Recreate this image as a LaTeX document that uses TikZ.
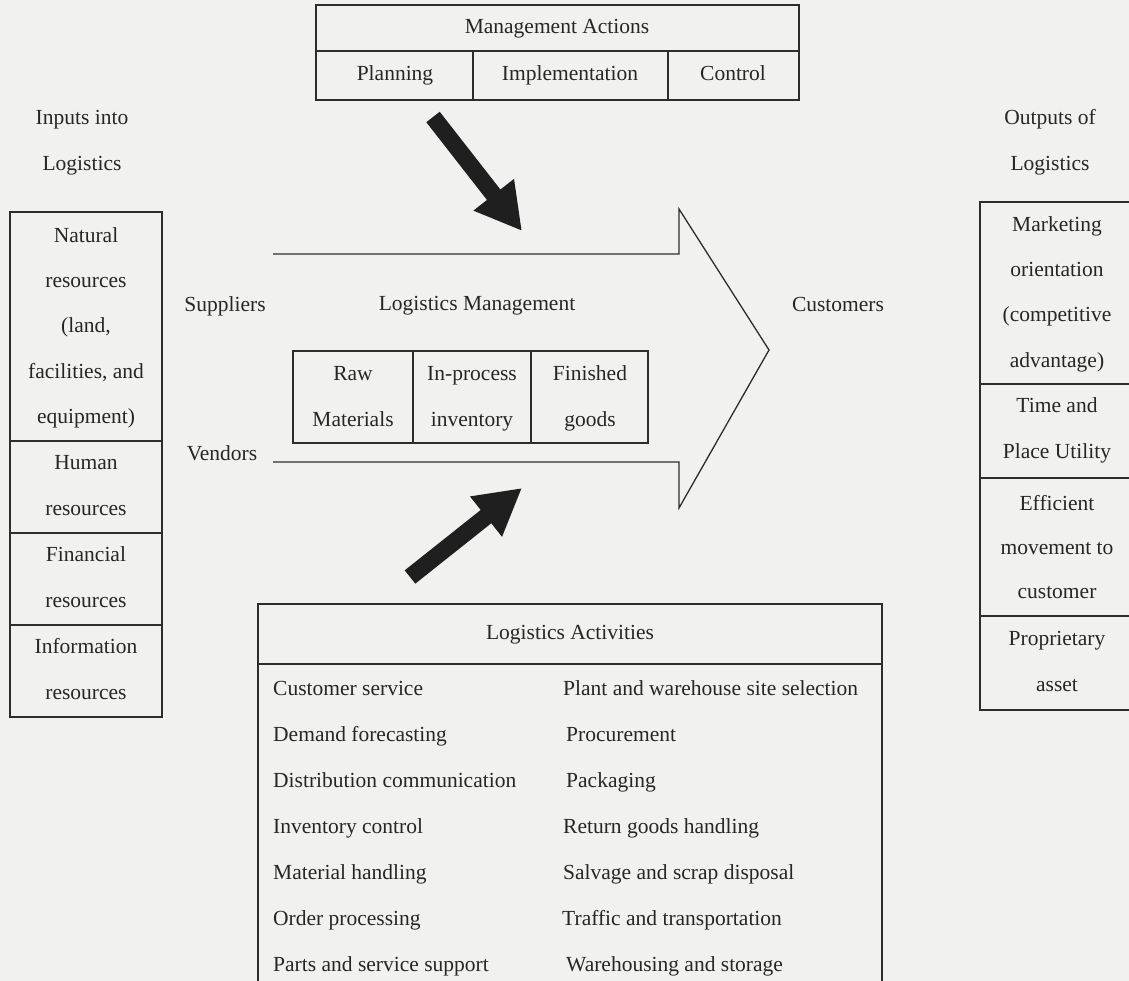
\documentclass[tikz,border=0pt]{standalone}
\usepackage{fontspec}
\setmainfont{Liberation Serif}
\usetikzlibrary{arrows.meta}
\definecolor{nen}{RGB}{241,241,240}
\definecolor{vien}{RGB}{45,45,45}
\tikzset{
  chu/.style={font=\fontsize{21.5}{26}\selectfont, inner sep=0pt, text height=15pt, text depth=5pt, text=black!85},
  khung/.style={draw=vien, line width=1.3pt},
  muiten/.style={line width=17pt, draw=black!88, -{Triangle[length=46pt,width=48pt]}},
}

\begin{document}
\begin{tikzpicture}[x=1pt,y=-1pt]
    % Nền và khung hình
    \fill[nen] (0,0) rectangle (1129,981);
    \useasboundingbox (0,0) rectangle (1129,981);

    % Định nghĩa tọa độ các điểm
    \coordinate (T1) at (433,117);
    \coordinate (D1) at (522,231);
    \coordinate (T2) at (410,577);
    \coordinate (D2) at (522,488);

    % Vẽ bảng Management Actions
    \draw[khung] (316,5) rectangle (799,100);
    \draw[khung] (316,51) -- (799,51);
    \draw[khung] (473,51) -- (473,100);
    \draw[khung] (668,51) -- (668,100);
    \node[chu] (qly) at (557,29) {Management Actions};
    \node[chu] (hdinh) at (395,76) {Planning};
    \node[chu] (thien) at (570,76) {Implementation};
    \node[chu] (ksoat) at (733,76) {Control};

    % Vẽ hai mũi tên đậm
    \draw[muiten] (T1) -- (D1);
    \draw[muiten] (T2) -- (D2);

    % Vẽ mũi tên lớn Logistics Management
    \draw[khung] (273,254) -- (679,254) -- (679,209) -- (769,350)
        -- (679,508) -- (679,462) -- (273,462);
    \node[chu] (qlhc) at (477,306) {Logistics Management};
    \node[chu] (ncc) at (225,307) {Suppliers};
    \node[chu] (nban) at (222,455) {Vendors};
    \node[chu] (khang) at (838,307) {Customers};

    % Vẽ bảng Raw Materials
    \draw[khung] (293,351) rectangle (648,443);
    \draw[khung] (413,351) -- (413,443);
    \draw[khung] (531,351) -- (531,443);
    \node[chu] (nl1) at (353,375) {Raw};
    \node[chu] (nl2) at (353,421) {Materials};
    \node[chu] (tk1) at (472,375) {In-process};
    \node[chu] (tk2) at (472,421) {inventory};
    \node[chu] (tp1) at (590,375) {Finished};
    \node[chu] (tp2) at (590,421) {goods};

    % Vẽ cột đầu vào
    \node[chu] (dv1) at (82,120) {Inputs into};
    \node[chu] (dv2) at (82,166) {Logistics};
    \draw[khung] (10,212) rectangle (162,717);
    \draw[khung] (10,441) -- (162,441);
    \draw[khung] (10,533) -- (162,533);
    \draw[khung] (10,625) -- (162,625);
    \node[chu] (tn1) at (86,238) {Natural};
    \node[chu] (tn2) at (86,283) {resources};
    \node[chu] (tn3) at (86,328) {(land,};
    \node[chu] (tn4) at (86,373) {facilities, and};
    \node[chu] (tn5) at (86,418) {equipment)};
    \node[chu] (nl3) at (86,464) {Human};
    \node[chu] (nl4) at (86,510) {resources};
    \node[chu] (tc1) at (86,556) {Financial};
    \node[chu] (tc2) at (86,602) {resources};
    \node[chu] (tt1) at (86,648) {Information};
    \node[chu] (tt2) at (86,694) {resources};

    % Vẽ cột đầu ra
    \node[chu] (dr1) at (1050,120) {Outputs of};
    \node[chu] (dr2) at (1050,166) {Logistics};
    \draw[khung] (980,202) rectangle (1140,710);
    \draw[khung] (980,384) -- (1140,384);
    \draw[khung] (980,478) -- (1140,478);
    \draw[khung] (980,616) -- (1140,616);
    \node[chu] (tt3) at (1057,227) {Marketing};
    \node[chu] (tt4) at (1057,272) {orientation};
    \node[chu] (tt5) at (1057,317) {(competitive};
    \node[chu] (tt6) at (1057,362) {advantage)};
    \node[chu] (ti1) at (1057,407) {Time and};
    \node[chu] (ti2) at (1057,453) {Place Utility};
    \node[chu] (hq1) at (1057,505) {Efficient};
    \node[chu] (hq2) at (1057,549) {movement to};
    \node[chu] (hq3) at (1057,593) {customer};
    \node[chu] (ts1) at (1057,640) {Proprietary};
    \node[chu] (ts2) at (1057,686) {asset};

    % Vẽ bảng Logistics Activities
    \draw[khung] (258,1000) -- (258,604) -- (882,604) -- (882,1000);
    \draw[khung] (258,664) -- (882,664);
    \node[chu] (hdong) at (570,634) {Logistics Activities};
    \node[chu, anchor=west] (a1) at (273,690) {Customer service};
    \node[chu, anchor=west] (a2) at (273,736) {Demand forecasting};
    \node[chu, anchor=west] (a3) at (273,782) {Distribution communication};
    \node[chu, anchor=west] (a4) at (273,828) {Inventory control};
    \node[chu, anchor=west] (a5) at (273,874) {Material handling};
    \node[chu, anchor=west] (a6) at (273,920) {Order processing};
    \node[chu, anchor=west] (a7) at (273,966) {Parts and service support};
    \node[chu, anchor=west] (b1) at (563,690) {Plant and warehouse site selection};
    \node[chu, anchor=west] (b2) at (566,736) {Procurement};
    \node[chu, anchor=west] (b3) at (566,782) {Packaging};
    \node[chu, anchor=west] (b4) at (563,828) {Return goods handling};
    \node[chu, anchor=west] (b5) at (563,874) {Salvage and scrap disposal};
    \node[chu, anchor=west] (b6) at (562,920) {Traffic and transportation};
    \node[chu, anchor=west] (b7) at (566,966) {Warehousing and storage};
\end{tikzpicture}
\end{document}
